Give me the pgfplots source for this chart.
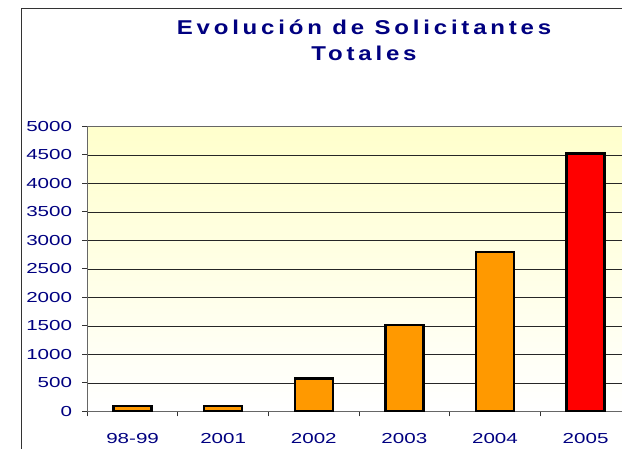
\documentclass[border=0pt]{standalone}
\usepackage{pgfplots}
\pgfplotsset{compat=1.18}
\usepackage{fontspec}
\setmainfont{Liberation Sans}
\newfontfamily\tickfont[FakeStretch=1.42]{Liberation Sans}
\newfontfamily\titlefont[FakeStretch=1.2,LetterSpace=19]{Liberation Sans}
\definecolor{navy}{RGB}{0,0,128}
\definecolor{barorange}{RGB}{255,153,0}
\definecolor{bgyellow}{RGB}{255,255,204}
\begin{document}
\begin{tikzpicture}[x=1pt,y=1pt]
\path[use as bounding box, clip] (0,0) rectangle (622,449);
\draw[black!80, line width=1.5pt] (21.7,-5) -- (21.7,440.7) -- (640,440.7);
\node[font=\titlefont\bfseries\fontsize{20}{27}\selectfont, text=navy, anchor=base] at (364,414.5) {Evolución de Solicitantes};
\node[font=\titlefont\bfseries\fontsize{20}{27}\selectfont, text=navy, anchor=base] at (364,388) {Totales};
\begin{axis}[
  at={(87.3pt,37.5pt)}, anchor=south west,
  width=543.6pt, height=285pt, scale only axis,
  xmin=-0.5, xmax=5.5, ymin=0, ymax=5000,
  xtick={0,...,5}, xticklabels={98-99,2001,2002,2003,2004,2005},
  minor xtick={-0.5,0.5,...,5.5},
  ytick={0,500,...,5000},
  tick pos=left,
  ymajorgrids, major grid style={black!85, line width=0.9pt},
  tick align=outside, major tick length=5pt, minor tick length=5pt,
  major x tick style={draw=none},
  minor x tick style={black!80, line width=1pt},
  ytick style={black!80, line width=1pt},
  axis line style={black!60, line width=1.3pt},
  axis background/.style={top color=bgyellow, bottom color=white},
  ticklabel style={font=\tickfont\fontsize{14.5}{17}\selectfont, text=navy},
  /pgf/number format/assume math mode=true,
  /pgf/number format/1000 sep={},
  yticklabel style={anchor=east, inner sep=0pt, xshift=-10pt},
  xticklabel style={anchor=north, inner sep=0pt, yshift=-16.7pt},
]
\addplot[ybar, bar width=38pt, bar shift=0pt, fill=barorange, draw=black, line width=2.5pt] coordinates {(0,100)(1,100)(2,580)(3,1520)(4,2800)};
\addplot[ybar, bar width=38pt, bar shift=0pt, fill=red, draw=black, line width=2.5pt] coordinates {(5,4530)};
\end{axis}
\end{tikzpicture}
\end{document}
